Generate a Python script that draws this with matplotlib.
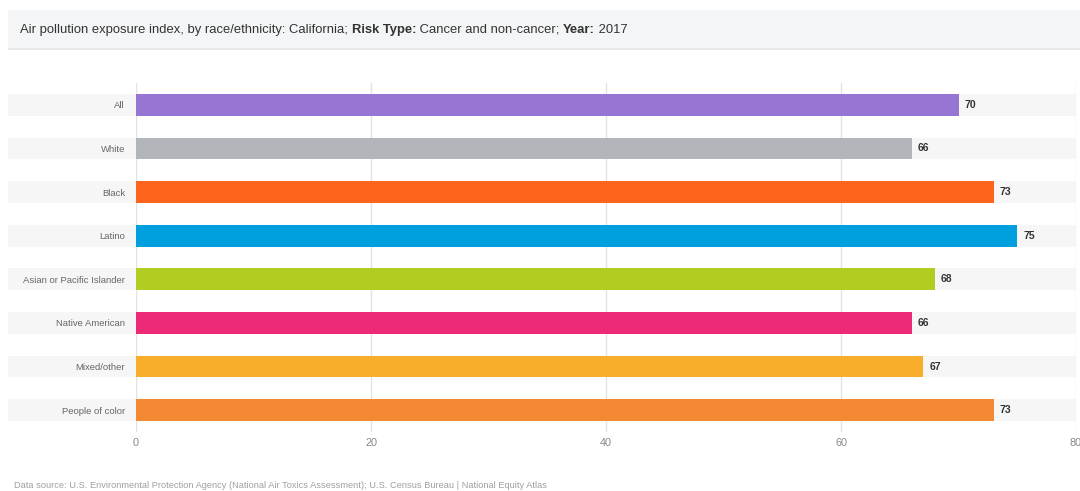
import matplotlib.pyplot as plt
from matplotlib.patches import Rectangle
from matplotlib.transforms import blended_transform_factory

# -------------------- Data --------------------
groups = ['All', 'White', 'Black', 'Latino', 'Asian or Pacific Islander',
          'Native American', 'Mixed/other', 'People of color']
values = [70, 66, 73, 75, 68, 66, 67, 73]
colors = ['#9776d3', '#b2b6bb', '#ff641c', '#00a0de', '#b3cc22',
          '#ed2a75', '#f9ae2b', '#f38a33']
xticks = [0, 20, 40, 60, 80]

title_parts = [('Air pollution exposure index, by race/ethnicity: California; ', 'normal'),
               ('Risk Type:', 'bold'),
               (' Cancer and non-cancer; ', 'normal'),
               ('Year:', 'bold'),
               (' 2017', 'normal')]
source = ('Data source: U.S. Environmental Protection Agency (National Air Toxics Assessment); '
          'U.S. Census Bureau | National Equity Atlas')

plt.rcParams['font.family'] = ['Liberation Sans', 'DejaVu Sans']

fig = plt.figure(figsize=(10.8, 4.91), dpi=100)
W, H = 1080, 491

# title box
fig.patches.append(Rectangle((8 / W, 1 - 48 / H), 1 - 8 / W, 38 / H,
                             transform=fig.transFigure, facecolor='#f4f5f6',
                             edgecolor='none', zorder=0))
fig.patches.append(Rectangle((8 / W, 1 - 50 / H), 1 - 8 / W, 2 / H,
                             transform=fig.transFigure, facecolor='#e7e9eb',
                             edgecolor='none', zorder=0))

ax = fig.add_axes([136 / W, 1 - 432 / H, 940 / W, 349 / H])
ypos = list(range(len(groups)))
bar_h = 0.5

# light row bands reaching into the label area
trans = blended_transform_factory(ax.transAxes, ax.transData)
band_left = (8 - 136) / 940
for y in ypos:
    ax.add_patch(Rectangle((band_left, y - bar_h / 2), 1 - band_left, bar_h,
                           transform=trans, facecolor='#f6f6f6', edgecolor='none',
                           clip_on=False, zorder=0))

for x in xticks:
    ax.axvline(x, color='#e3e3e3', lw=1, zorder=1)

ax.barh(ypos, values, height=bar_h, color=colors, zorder=2)
for y, v in zip(ypos, values):
    ax.text(v + 0.5, y, str(v), va='center', ha='left', fontsize=7.5,
            fontweight='bold', color='#333333')

ax.set_xlim(0, 80)
ax.set_ylim(len(groups) - 0.5, -0.5)
ax.set_xticks(xticks)
ax.set_yticks(ypos)
ax.set_yticklabels(groups, fontsize=6.8, color='#666666')
ax.tick_params(axis='x', labelsize=7.8, labelcolor='#888888', length=0, pad=4)
ax.tick_params(axis='y', length=0, pad=8)
for s in ax.spines.values():
    s.set_visible(False)

# title made of normal and bold pieces
fig.canvas.draw()
renderer = fig.canvas.get_renderer()
x0 = 20 / W
for txt, wt in title_parts:
    t = fig.text(x0, 1 - 30 / H, txt, fontsize=9.4, fontweight=wt,
                 color='#333333', va='center', ha='left')
    bb = t.get_window_extent(renderer)
    x0 += bb.width / W

fig.text(14 / W, 1 - 486 / H, source, fontsize=6.7, color='#a0a0a0',
         va='center', ha='left')

fig.savefig('out.png', dpi=100)
